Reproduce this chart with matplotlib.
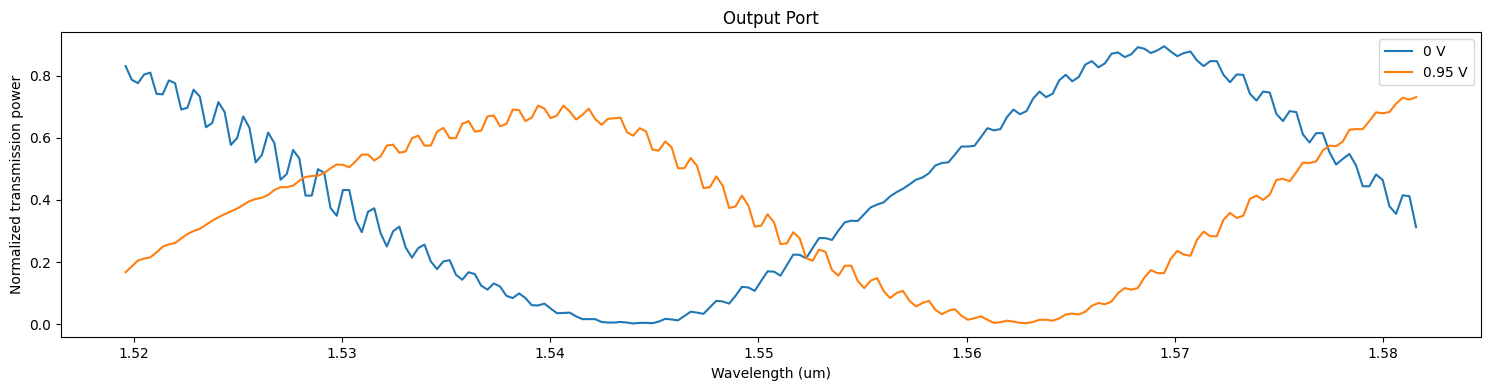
import numpy as np
import matplotlib
matplotlib.use("Agg")
import matplotlib.pyplot as plt

# wavelength sweep (um), 202 samples, evenly spaced in frequency
wl_start = 1.5196
wl_stop = 1.5816

# transmission at 0 V
p_0v = [
    0.831, 0.787, 0.776, 0.804, 0.810, 0.742, 0.740, 0.785, 0.776, 0.691,
    0.697, 0.755, 0.733, 0.634, 0.648, 0.715, 0.683, 0.577, 0.599, 0.669,
    0.632, 0.521, 0.545, 0.617, 0.583, 0.465, 0.484, 0.561, 0.534, 0.414,
    0.414, 0.499, 0.487, 0.374, 0.349, 0.432, 0.432, 0.336, 0.296, 0.362,
    0.373, 0.293, 0.250, 0.299, 0.314, 0.247, 0.214, 0.245, 0.256, 0.202,
    0.177, 0.202, 0.206, 0.159, 0.143, 0.167, 0.161, 0.124, 0.111, 0.131,
    0.121, 0.091, 0.084, 0.099, 0.084, 0.061, 0.060, 0.066, 0.050, 0.035,
    0.036, 0.037, 0.025, 0.016, 0.016, 0.016, 0.007, 0.005, 0.005, 0.007,
    0.005, 0.002, 0.004, 0.004, 0.003, 0.008, 0.017, 0.015, 0.012, 0.026,
    0.040, 0.037, 0.033, 0.054, 0.075, 0.073, 0.066, 0.091, 0.120, 0.118,
    0.107, 0.139, 0.170, 0.169, 0.156, 0.190, 0.224, 0.223, 0.212, 0.245,
    0.277, 0.277, 0.271, 0.301, 0.328, 0.333, 0.332, 0.354, 0.376, 0.385,
    0.392, 0.411, 0.425, 0.436, 0.450, 0.465, 0.472, 0.486, 0.511, 0.519,
    0.521, 0.546, 0.572, 0.572, 0.574, 0.602, 0.631, 0.624, 0.628, 0.667,
    0.691, 0.676, 0.686, 0.726, 0.749, 0.731, 0.742, 0.785, 0.803, 0.782,
    0.796, 0.836, 0.847, 0.827, 0.840, 0.871, 0.875, 0.860, 0.869, 0.892,
    0.887, 0.873, 0.882, 0.895, 0.878, 0.863, 0.873, 0.878, 0.849, 0.831,
    0.847, 0.847, 0.803, 0.779, 0.804, 0.803, 0.742, 0.720, 0.749, 0.746,
    0.677, 0.654, 0.686, 0.683, 0.611, 0.585, 0.615, 0.615, 0.554, 0.514,
    0.532, 0.548, 0.511, 0.444, 0.444, 0.482, 0.464, 0.380, 0.355, 0.415,
    0.412, 0.312,
]

# transmission at 0.95 V
p_095v = [
    0.167, 0.186, 0.205, 0.211, 0.215, 0.231, 0.249, 0.257, 0.261, 0.276,
    0.290, 0.300, 0.307, 0.320, 0.333, 0.344, 0.354, 0.363, 0.372, 0.384,
    0.396, 0.403, 0.407, 0.416, 0.432, 0.441, 0.441, 0.446, 0.462, 0.474,
    0.477, 0.478, 0.487, 0.502, 0.514, 0.513, 0.505, 0.524, 0.546, 0.546,
    0.527, 0.540, 0.575, 0.578, 0.552, 0.556, 0.599, 0.607, 0.575, 0.575,
    0.620, 0.632, 0.599, 0.599, 0.645, 0.654, 0.620, 0.623, 0.669, 0.672,
    0.637, 0.645, 0.691, 0.689, 0.654, 0.665, 0.704, 0.694, 0.663, 0.672,
    0.704, 0.685, 0.659, 0.674, 0.694, 0.661, 0.642, 0.661, 0.663, 0.665,
    0.618, 0.607, 0.631, 0.621, 0.562, 0.559, 0.588, 0.570, 0.502, 0.502,
    0.535, 0.509, 0.438, 0.441, 0.476, 0.446, 0.374, 0.379, 0.414, 0.382,
    0.314, 0.317, 0.354, 0.328, 0.258, 0.260, 0.296, 0.276, 0.213, 0.204,
    0.240, 0.233, 0.174, 0.156, 0.188, 0.188, 0.139, 0.116, 0.140, 0.148,
    0.107, 0.084, 0.100, 0.107, 0.075, 0.057, 0.068, 0.075, 0.046, 0.032,
    0.043, 0.048, 0.027, 0.014, 0.019, 0.025, 0.014, 0.004, 0.006, 0.011,
    0.008, 0.004, 0.003, 0.007, 0.014, 0.014, 0.011, 0.018, 0.031, 0.034,
    0.031, 0.040, 0.059, 0.068, 0.064, 0.073, 0.100, 0.116, 0.111, 0.116,
    0.150, 0.174, 0.164, 0.164, 0.210, 0.236, 0.224, 0.220, 0.272, 0.298,
    0.283, 0.283, 0.336, 0.358, 0.342, 0.349, 0.403, 0.414, 0.400, 0.417,
    0.464, 0.468, 0.460, 0.489, 0.520, 0.519, 0.524, 0.559, 0.575, 0.573,
    0.588, 0.626, 0.628, 0.628, 0.654, 0.682, 0.679, 0.683, 0.710, 0.729,
    0.723, 0.731,
]

labels = ["0 V", "0.95 V"]

# the sweep steps evenly in optical frequency, so the wavelength step grows
freq = np.linspace(1 / wl_start, 1 / wl_stop, len(p_0v))
wavelength = 1 / freq

fig, ax = plt.subplots(figsize=(14.9, 3.9), dpi=100)
ax.plot(wavelength, p_0v, label=labels[0])
ax.plot(wavelength, p_095v, label=labels[1])
ax.set_title("Output Port")
ax.set_xlabel("Wavelength (um)")
ax.set_ylabel("Normalized transmission power")
ax.legend(loc="upper right")

fig.subplots_adjust(left=0.041, right=0.9937, top=0.917, bottom=0.135)
fig.savefig("out.png")
